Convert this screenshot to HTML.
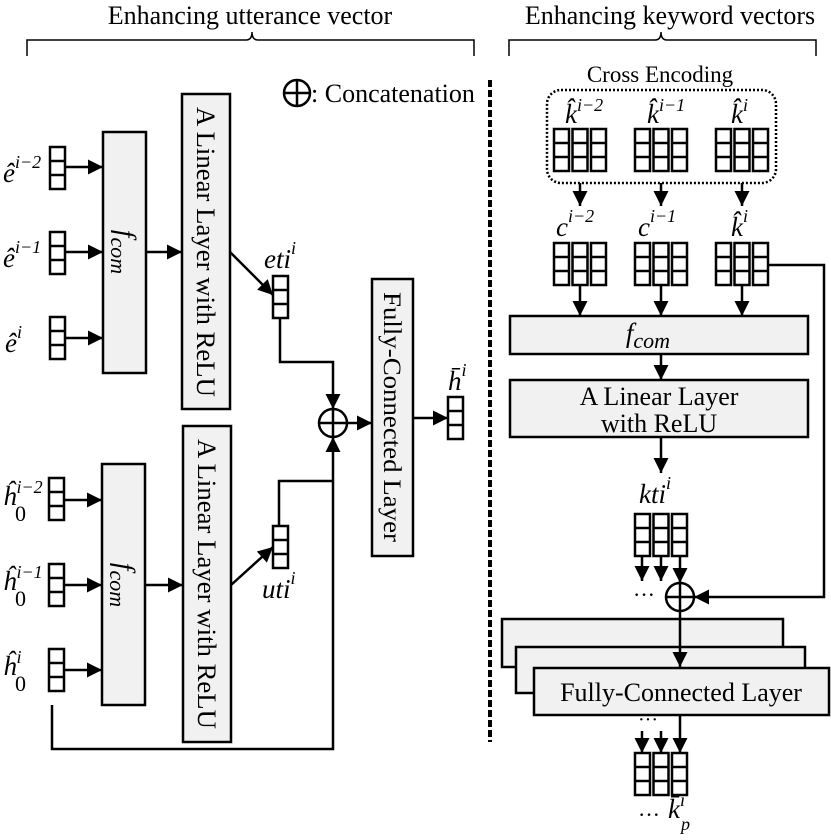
<!DOCTYPE html>
<html><head><meta charset="utf-8"><style>
html,body{margin:0;padding:0;background:#fff;}
svg{display:block;font-family:"Liberation Serif",serif;}
.b{fill:#f1f1f1;stroke:#000;stroke-width:2.5;}
.c{fill:#fff;stroke:#000;stroke-width:2.5;}
.l{fill:none;stroke:#000;stroke-width:2.5;}
.m{font-style:italic;font-size:27px;}
.s{font-size:18px;font-style:italic;}
.z{font-size:22px;}
</style></head><body>
<svg width="831" height="840" viewBox="0 0 831 840" xmlns="http://www.w3.org/2000/svg">
<defs>
<marker id="a" viewBox="-16 -9 17 18" refX="0" refY="0" markerWidth="17" markerHeight="18" orient="auto" markerUnits="userSpaceOnUse">
<path d="M-15,-7.5 L0,0 L-15,7.5 z" fill="#000"/>
</marker>
<g id="v1"><rect class="c" x="0" y="0" width="15" height="42"/><line class="l" x1="0" y1="14" x2="15" y2="14"/><line class="l" x1="0" y1="28" x2="15" y2="28"/></g>
<g id="v3"><use href="#v1" x="0"/><use href="#v1" x="18.5"/><use href="#v1" x="37"/></g>
</defs>

<text x="250" y="24" font-size="26" text-anchor="middle">Enhancing utterance vector</text>
<text x="670" y="24" font-size="26" text-anchor="middle">Enhancing keyword vectors</text>
<path d="M27,56 V40 H246 Q252,40 252,32 Q252,40 258,40 H474 V56" fill="none" stroke="#000" stroke-width="1.5"/>
<path d="M509,56 V40 H655 Q661,40 661,32 Q661,40 667,40 H816 V56" fill="none" stroke="#000" stroke-width="1.5"/>

<circle class="l" cx="297" cy="93" r="13"/><line class="l" x1="284" y1="93" x2="310" y2="93"/><line class="l" x1="297" y1="80" x2="297" y2="106"/>
<text x="311" y="102" font-size="26">: Concatenation</text>

<line x1="490" y1="80" x2="490" y2="742" stroke="#000" stroke-width="4" stroke-dasharray="7,3"/>

<!-- LEFT TOP -->
<use href="#v1" x="50" y="147"/><use href="#v1" x="50" y="232"/><use href="#v1" x="50" y="317"/>
<text class="m" x="3" y="182">ê<tspan class="s" dy="-14">i−2</tspan></text>
<text class="m" x="3" y="267">ê<tspan class="s" dy="-14">i−1</tspan></text>
<text class="m" x="5" y="352">ê<tspan class="s" dy="-14">i</tspan></text>
<line class="l" x1="65" y1="167" x2="103" y2="167" marker-end="url(#a)"/>
<line class="l" x1="65" y1="252" x2="103" y2="252" marker-end="url(#a)"/>
<line class="l" x1="65" y1="338" x2="103" y2="338" marker-end="url(#a)"/>
<rect class="b" x="103" y="132" width="43" height="241"/>
<text class="m" transform="translate(117,252) rotate(90)" text-anchor="middle" font-size="28">f<tspan font-size="22" dy="6">com</tspan></text>
<line class="l" x1="146" y1="252" x2="182" y2="252" marker-end="url(#a)"/>
<rect class="b" x="182" y="94" width="48" height="315"/>
<text transform="translate(197,252) rotate(90)" text-anchor="middle" font-size="26" textLength="290" lengthAdjust="spacingAndGlyphs">A Linear Layer with ReLU</text>
<line class="l" x1="230" y1="252" x2="273" y2="295" marker-end="url(#a)"/>
<use href="#v1" x="273" y="276"/>
<text class="m" x="264" y="268">eti<tspan class="s" dy="-14">i</tspan></text>
<polyline class="l" points="280,318 280,362 333,362 333,409" marker-end="url(#a)"/>
<circle class="l" cx="333" cy="423" r="14"/><line class="l" x1="319" y1="423" x2="347" y2="423"/><line class="l" x1="333" y1="409" x2="333" y2="437"/>
<line class="l" x1="347" y1="423" x2="372" y2="423" marker-end="url(#a)"/>
<rect class="b" x="372" y="279" width="41" height="277"/>
<text transform="translate(384,417) rotate(90)" text-anchor="middle" font-size="25" textLength="250" lengthAdjust="spacingAndGlyphs">Fully-Connected Layer</text>
<line class="l" x1="413" y1="418" x2="448" y2="418" marker-end="url(#a)"/>
<use href="#v1" x="448" y="397"/>
<text class="m" x="448" y="390">h̄<tspan class="s" dy="-14">i</tspan></text>

<!-- LEFT BOTTOM -->
<use href="#v1" x="49" y="478"/><use href="#v1" x="49" y="564"/><use href="#v1" x="49" y="649"/>
<text class="m" x="3" y="505">ĥ<tspan class="s" dy="-12">i−2</tspan></text><text class="z" x="15" y="521">0</text>
<text class="m" x="3" y="590">ĥ<tspan class="s" dy="-12">i−1</tspan></text><text class="z" x="15" y="606">0</text>
<text class="m" x="3" y="675">ĥ<tspan class="s" dy="-12">i</tspan></text><text class="z" x="15" y="691">0</text>
<line class="l" x1="64" y1="500" x2="102" y2="500" marker-end="url(#a)"/>
<line class="l" x1="64" y1="585" x2="102" y2="585" marker-end="url(#a)"/>
<line class="l" x1="64" y1="670" x2="102" y2="670" marker-end="url(#a)"/>
<rect class="b" x="102" y="464" width="43" height="241"/>
<text class="m" transform="translate(116,585) rotate(90)" text-anchor="middle" font-size="28">f<tspan font-size="22" dy="6">com</tspan></text>
<line class="l" x1="145" y1="585" x2="183" y2="585" marker-end="url(#a)"/>
<rect class="b" x="183" y="426" width="48" height="316"/>
<text transform="translate(198,584) rotate(90)" text-anchor="middle" font-size="26" textLength="290" lengthAdjust="spacingAndGlyphs">A Linear Layer with ReLU</text>
<line class="l" x1="231" y1="585" x2="273" y2="547" marker-end="url(#a)"/>
<use href="#v1" x="273" y="526"/>
<text class="m" x="262" y="598">uti<tspan class="s" dy="-14">i</tspan></text>
<polyline class="l" points="279,526 279,481 333,481"/>
<polyline class="l" points="52,705 52,749 333,749 333,437" marker-end="url(#a)"/>

<!-- RIGHT -->
<text x="660" y="82" font-size="23" text-anchor="middle">Cross Encoding</text>
<rect x="547" y="90" width="229" height="93" rx="14" fill="none" stroke="#000" stroke-width="2.5" stroke-dasharray="2,2"/>
<text class="m" x="565" y="123">k̂<tspan class="s" dy="-12">i−2</tspan></text>
<text class="m" x="647" y="123">k̂<tspan class="s" dy="-12">i−1</tspan></text>
<text class="m" x="731" y="123">k̂<tspan class="s" dy="-12">i</tspan></text>
<use href="#v3" x="554" y="129"/><use href="#v3" x="635" y="129"/><use href="#v3" x="716" y="129"/>
<line class="l" x1="580" y1="183" x2="580" y2="206" marker-end="url(#a)"/>
<line class="l" x1="661" y1="183" x2="661" y2="206" marker-end="url(#a)"/>
<line class="l" x1="742" y1="183" x2="742" y2="206" marker-end="url(#a)"/>
<text class="m" x="556" y="236">c<tspan class="s" dy="-14">i−2</tspan></text>
<text class="m" x="638" y="236">c<tspan class="s" dy="-14">i−1</tspan></text>
<text class="m" x="731" y="236">k̂<tspan class="s" dy="-14">i</tspan></text>
<use href="#v3" x="554" y="243"/><use href="#v3" x="635" y="243"/><use href="#v3" x="716" y="243"/>
<line class="l" x1="580" y1="286" x2="580" y2="316" marker-end="url(#a)"/>
<line class="l" x1="661" y1="286" x2="661" y2="316" marker-end="url(#a)"/>
<line class="l" x1="742" y1="286" x2="742" y2="316" marker-end="url(#a)"/>
<rect class="b" x="510" y="316" width="298" height="38"/>
<text class="m" x="648" y="342" text-anchor="middle" font-size="28">f<tspan font-size="22" dy="6">com</tspan></text>
<line class="l" x1="661" y1="354" x2="661" y2="380" marker-end="url(#a)"/>
<rect class="b" x="510" y="380" width="298" height="57"/>
<text x="659" y="405" text-anchor="middle" font-size="26">A Linear Layer</text>
<text x="659" y="432" text-anchor="middle" font-size="26">with ReLU</text>
<line class="l" x1="661" y1="437" x2="661" y2="473" marker-end="url(#a)"/>
<text class="m" x="639" y="503">kti<tspan class="s" dy="-14">i</tspan></text>
<use href="#v3" x="635" y="514"/>
<line class="l" x1="642" y1="556" x2="642" y2="581" marker-end="url(#a)"/>
<line class="l" x1="661" y1="556" x2="661" y2="581" marker-end="url(#a)"/>
<line class="l" x1="680" y1="556" x2="680" y2="583" marker-end="url(#a)"/>
<text x="633" y="602" font-size="22">···</text>
<circle class="l" cx="680" cy="597" r="14"/><line class="l" x1="666" y1="597" x2="694" y2="597"/><line class="l" x1="680" y1="583" x2="680" y2="611"/>
<polyline class="l" points="768,265 824,265 824,597 694,597" marker-end="url(#a)"/>
<rect class="b" x="502" y="619" width="281" height="48"/>
<rect class="b" x="516" y="647" width="289" height="46"/>
<rect class="b" x="534" y="668" width="295" height="47"/>
<line class="l" x1="680" y1="611" x2="680" y2="667" marker-end="url(#a)"/>
<text x="681" y="701" text-anchor="middle" font-size="26">Fully-Connected Layer</text>
<text x="638" y="726" font-size="20">···</text>
<line class="l" x1="642" y1="731" x2="642" y2="753" marker-end="url(#a)"/>
<line class="l" x1="661" y1="731" x2="661" y2="753" marker-end="url(#a)"/>
<line class="l" x1="680" y1="715" x2="680" y2="753" marker-end="url(#a)"/>
<use href="#v3" x="635" y="753"/>
<text x="638" y="822" font-size="22">···</text>
<text class="m" x="668" y="818">k̄<tspan class="s" dy="-12">i</tspan></text><text class="s" x="681" y="830" font-size="20">p</text>
</svg>
</body></html>
